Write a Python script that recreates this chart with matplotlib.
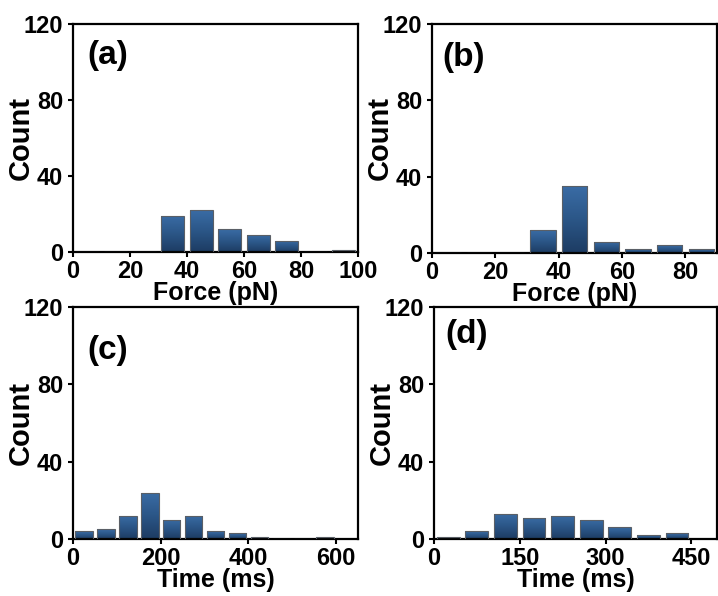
import numpy as np
import matplotlib
matplotlib.use("Agg")
import matplotlib.pyplot as plt
from matplotlib.colors import LinearSegmentedColormap

plt.rcParams['font.family'] = ['Liberation Sans', 'DejaVu Sans']
plt.rcParams['font.weight'] = 'bold'

# ---- data ----
force_a_centers = [5, 15, 25, 35, 45, 55, 65, 75, 85, 95]
force_a_counts = [0, 0, 0, 19, 22, 12, 9, 6, 0, 1]

force_b_centers = [5, 15, 25, 35, 45, 55, 65, 75, 85]
force_b_counts = [0, 0, 0, 12, 35, 6, 2, 4, 2]

time_c_centers = [25, 75, 125, 175, 225, 275, 325, 375, 425, 475, 525, 575]
time_c_counts = [4, 5, 12, 24, 10, 12, 4, 3, 1, 0, 0, 1]

time_d_centers = [25, 75, 125, 175, 225, 275, 325, 375, 425]
time_d_counts = [1, 4, 13, 11, 12, 10, 6, 2, 3]

panel_labels = ["(a)", "(b)", "(c)", "(d)"]
xlabels = ["Force (pN)", "Force (pN)", "Time (ms)", "Time (ms)"]
xticks_list = [[0, 20, 40, 60, 80, 100], [0, 20, 40, 60, 80],
               [0, 200, 400, 600], [0, 150, 300, 450]]
xlims = [(0, 100), (0, 90), (0, 650), (0, 495)]
yticks = [0, 40, 80, 120]
bar_widths = [8, 8, 40, 40]

W, H = 718, 596
fig = plt.figure(figsize=(W / 100, H / 100), dpi=100)

boxes = [  # left, right, top, bottom in pixels
    (73, 358, 24, 252),
    (432, 717, 24, 253),
    (73, 358, 307, 539),
    (434, 717, 307, 539),
]
label_pos = [(0.05, 0.93), (0.035, 0.92), (0.05, 0.88), (0.04, 0.95)]

cmap = LinearSegmentedColormap.from_list("bar", ["#1d3c63", "#2b5687", "#3a6ca5"])
grad = np.linspace(0, 1, 64).reshape(-1, 1)

datasets = [(force_a_centers, force_a_counts), (force_b_centers, force_b_counts),
            (time_c_centers, time_c_counts), (time_d_centers, time_d_counts)]

for i, ((l, r, t, b), (cx, cy)) in enumerate(zip(boxes, datasets)):
    ax = fig.add_axes([l / W, 1 - b / H, (r - l) / W, (b - t) / H])
    bars = ax.bar(cx, cy, width=bar_widths[i], color="none",
                  edgecolor="#5a5f66", linewidth=0.8, zorder=3)
    for p in bars:
        x0, y0 = p.get_x(), p.get_y()
        w, h = p.get_width(), p.get_height()
        if h <= 0:
            continue
        im = ax.imshow(grad, cmap=cmap, aspect="auto", origin="lower",
                       extent=(x0, x0 + w, y0, y0 + h), zorder=2)
        im.set_clip_path(p)
    ax.set_xlim(*xlims[i])
    ax.set_ylim(0, 120)
    ax.set_xticks(xticks_list[i])
    ax.set_yticks(yticks)
    for s in ax.spines.values():
        s.set_linewidth(1.6)
    ax.tick_params(direction="out", length=3.5, width=1.5, labelsize=17)
    ax.tick_params(axis="y", pad=3.5)
    ax.tick_params(axis="x", pad=2)
    for lab in ax.get_xticklabels() + ax.get_yticklabels():
        lab.set_fontweight("bold")
    ax.set_xlabel(xlabels[i], fontsize=18, fontweight="bold", labelpad=-1)
    ax.set_ylabel("Count", fontsize=21, fontweight="bold")
    ax.yaxis.set_label_coords(-0.135, 0.5)
    ax.text(label_pos[i][0], label_pos[i][1], panel_labels[i],
            transform=ax.transAxes, fontsize=24, fontweight="bold",
            ha="left", va="top")

fig.savefig("out.png", dpi=100)
